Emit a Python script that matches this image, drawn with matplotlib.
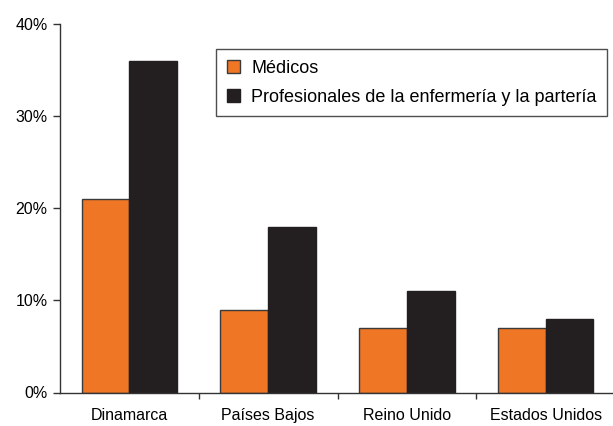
import numpy as np
import matplotlib
matplotlib.use("Agg")
import matplotlib.pyplot as plt
from matplotlib.ticker import FixedLocator, PercentFormatter

plt.rcParams['font.family'] = ['Liberation Sans', 'DejaVu Sans']

paises = ["Dinamarca", "Países Bajos", "Reino Unido", "Estados Unidos"]
medicos = [21, 9, 7, 7]
enfermeria = [36, 18, 11, 8]
series_labels = ["Médicos", "Profesionales de la enfermería y la partería"]

orange = "#EE7625"
dark = "#231F20"

fig = plt.figure(figsize=(6.13, 4.26), dpi=100)
ax = fig.add_axes([60 / 613, 33.5 / 426, 555 / 613, 368.5 / 426])

x = np.arange(len(paises))
w = 0.345
ax.bar(x - w / 2, medicos, w, color=orange, edgecolor="#3a3a3a", linewidth=1.0,
       label=series_labels[0])
ax.bar(x + w / 2, enfermeria, w, color=dark, edgecolor=dark, linewidth=1.0,
       label=series_labels[1])

ax.set_xlim(-0.5, 3.5)
ax.set_ylim(0, 40)
ax.set_yticks([0, 10, 20, 30, 40])
ax.yaxis.set_major_formatter(PercentFormatter(decimals=0))

ax.set_xticks(x)
ax.set_xticklabels(paises)
ax.xaxis.set_minor_locator(FixedLocator([0.5, 1.5, 2.5]))
ax.tick_params(axis="x", which="major", length=0, pad=11, labelsize=11.5)
ax.tick_params(axis="x", which="minor", length=4.5, width=1, color="#333333", direction="out")
ax.tick_params(axis="y", length=5, width=1, color="#333333", pad=4, labelsize=11.5)

for s in ["top", "right"]:
    ax.spines[s].set_visible(False)
for s in ["left", "bottom"]:
    ax.spines[s].set_color("#333333")
    ax.spines[s].set_linewidth(1.0)

leg = ax.legend(loc="upper left", bbox_to_anchor=(156 / 555, 1 - 25 / 368.5),
                frameon=True, fancybox=False, edgecolor="#222222", fontsize=13,
                handlelength=0.75, handleheight=0.75, handletextpad=0.6,
                labelspacing=0.65, borderpad=0.6, borderaxespad=0)
leg.get_frame().set_linewidth(1.0)

fig.savefig("out.png", dpi=100)
